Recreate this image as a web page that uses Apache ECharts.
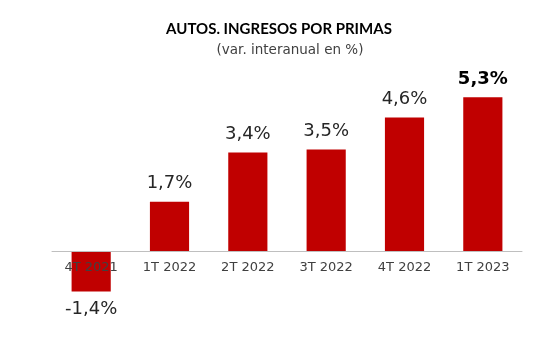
<!DOCTYPE html>
<html><head><meta charset="utf-8">
<script src="https://cdn.jsdelivr.net/npm/echarts@6/dist/echarts.min.js"></script>
<style>html,body{margin:0;padding:0;background:#fff}#c{width:543px;height:342px}</style>
</head><body><div id="c"></div>
<script>
const categories = ["4T 2021", "1T 2022", "2T 2022", "3T 2022", "4T 2022", "1T 2023"];
const values = [-1.4, 1.7, 3.4, 3.5, 4.6, 5.3];
const titleText = "AUTOS. INGRESOS POR PRIMAS";
const subtitleText = "(var. interanual en %)";

const FONT = "'DejaVu Sans', sans-serif";
const TFONT = "Lato, 'DejaVu Sans', sans-serif";
const fmt = v => String(v.toFixed(1)).replace('.', ',') + '%';
const lastIdx = values.length - 1;

const chart = echarts.init(document.getElementById('c'));
chart.setOption({
  animation: false,
  title: [
    { text: titleText, left: 274, textAlign: 'center', top: 17,
      textStyle: { fontFamily: TFONT, fontSize: 15, fontWeight: 'bold', color: '#000' } },
    { text: subtitleText, left: 285, textAlign: 'center', top: 38,
      textStyle: { fontFamily: FONT, fontSize: 13.5, fontWeight: 'normal', color: '#404040' } }
  ],
  grid: { left: 52, right: 21, top: 77, height: 232 },
  xAxis: {
    type: 'category', data: categories, position: 'bottom', offset: -58,
    axisLine: { onZero: false, lineStyle: { color: '#BFBFBF', width: 1 } },
    axisTick: { show: false },
    axisLabel: { fontFamily: FONT, fontSize: 13, color: '#404040', margin: 10 },
    z: 5
  },
  yAxis: { type: 'value', min: -2, max: 6, interval: 1, show: false, splitLine: { show: false } },
  series: [{
    type: 'bar', barWidth: '50%', z: 1,
    data: values.map((v, i) => ({
      value: v,
      label: {
        show: true, position: v < 0 ? 'bottom' : 'top', distance: 9,
        formatter: () => fmt(v),
        fontFamily: FONT, fontSize: 18,
        fontWeight: i === lastIdx ? 'bold' : 'normal',
        color: i === lastIdx ? '#000' : '#262626'
      }
    })),
    itemStyle: { color: '#C00000' }
  }]
});
</script></body></html>
